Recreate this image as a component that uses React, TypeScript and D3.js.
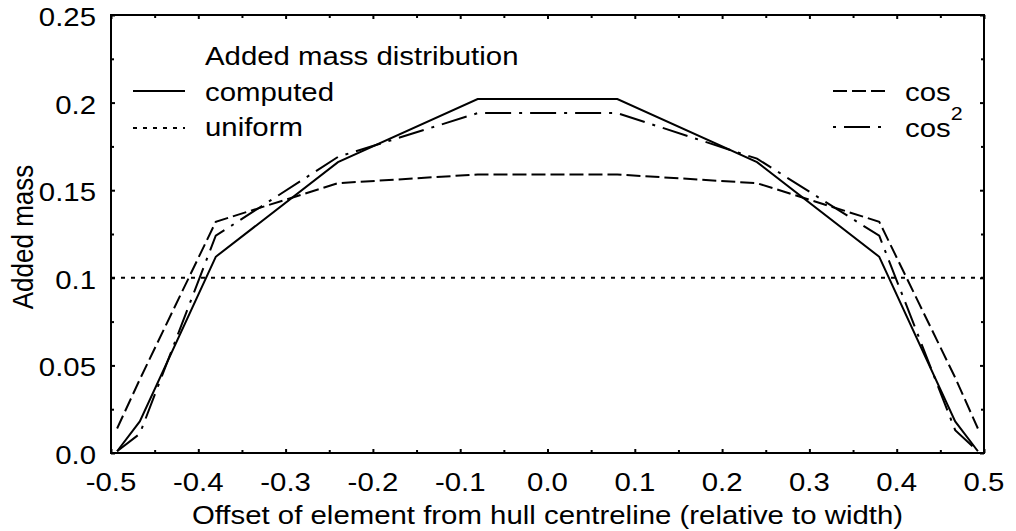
import React, { useEffect, useRef } from "react";
import * as d3 from "d3";

// element offsets (relative to width) and added mass per distribution
const offsets = [-0.493, -0.467, -0.38, -0.24, -0.08, 0.08, 0.24, 0.38, 0.467, 0.493];
const computed = [0.001, 0.018, 0.112, 0.166, 0.202, 0.202, 0.166, 0.112, 0.018, 0.001];
const cosDist = [0.014, 0.042, 0.132, 0.154, 0.159, 0.159, 0.154, 0.132, 0.043, 0.014];
const cos2Dist = [0.001, 0.011, 0.124, 0.169, 0.194, 0.194, 0.168, 0.124, 0.013, 0.001];
const uniformX = [-0.5, 0.5];
const uniformY = [0.1, 0.1];

const xTicks = [-0.5, -0.4, -0.3, -0.2, -0.1, 0, 0.1, 0.2, 0.3, 0.4, 0.5];
const xTickLabels = ["-0.5", "-0.4", "-0.3", "-0.2", "-0.1", "0.0", "0.1", "0.2", "0.3", "0.4", "0.5"];
const xMinor = [-0.45, -0.35, -0.25, -0.15, -0.05, 0.05, 0.15, 0.25, 0.35, 0.45];
const yTicks = [0, 0.05, 0.1, 0.15, 0.2, 0.25];
const yTickLabels = ["0.0", "0.05", "0.1", "0.15", "0.2", "0.25"];
const yMinor = [0.025, 0.075, 0.125, 0.175, 0.225];

const W = 1016;
const H = 531;
const FONT = "'Liberation Sans', Arial, Helvetica, sans-serif";
const SX = 1.13; // text in the picture is a bit stretched sideways

export default function App() {
  const ref = useRef<SVGSVGElement>(null);

  useEffect(() => {
    const svg = d3.select(ref.current);
    svg.selectAll("*").remove();

    const margin = { top: 15, right: 32, bottom: 78, left: 111 };
    const x = d3.scaleLinear().domain([-0.5, 0.5]).range([margin.left, W - margin.right]);
    const y = d3.scaleLinear().domain([0, 0.25]).range([H - margin.bottom, margin.top]);

    const label = (px: number, py: number, str: string, anchor: string, size = 26) =>
      svg.append("text")
        .attr("transform", `translate(${px},${py}) scale(${SX},1)`)
        .attr("text-anchor", anchor)
        .attr("font-size", size)
        .attr("font-family", FONT)
        .attr("fill", "#000")
        .text(str);

    // ticks on all four sides, pointing in
    const tickAxis = (axis: any, vals: number[], len: number, tr: string) => {
      const g = svg.append("g").attr("transform", tr)
        .call(axis.tickValues(vals).tickSizeInner(len).tickSizeOuter(0).tickFormat(() => ""));
      g.select(".domain").remove();
      g.selectAll("line").attr("stroke", "#000").attr("stroke-width", 2);
    };
    const b = H - margin.bottom, t = margin.top, l = margin.left, r = W - margin.right;
    tickAxis(d3.axisBottom(x), xTicks, -4, `translate(0,${b})`);
    tickAxis(d3.axisBottom(x), xMinor, -3, `translate(0,${b})`);
    tickAxis(d3.axisTop(x), xTicks, -4, `translate(0,${t})`);
    tickAxis(d3.axisTop(x), xMinor, -3, `translate(0,${t})`);
    tickAxis(d3.axisLeft(y), yTicks, -4, `translate(${l},0)`);
    tickAxis(d3.axisLeft(y), yMinor, -3, `translate(${l},0)`);
    tickAxis(d3.axisRight(y), yTicks, -4, `translate(${r},0)`);
    tickAxis(d3.axisRight(y), yMinor, -3, `translate(${r},0)`);

    svg.append("rect")
      .attr("x", l).attr("y", t).attr("width", r - l).attr("height", b - t)
      .attr("fill", "none").attr("stroke", "#000").attr("stroke-width", 2);

    xTicks.forEach((v, i) => label(x(v), 491, xTickLabels[i], "middle"));
    yTicks.forEach((v, i) => label(l - 15, y(v) + 11, yTickLabels[i], "end"));

    label((l + r) / 2, 524, "Offset of element from hull centreline (relative to width)", "middle");
    svg.append("text")
      .attr("transform", `translate(33,${(t + b) / 2 + 3}) scale(${SX},1) rotate(-90)`)
      .attr("text-anchor", "middle")
      .attr("font-size", 26)
      .attr("font-family", FONT)
      .text("Added mass");

    const line = (ys: number[], xs: number[] = offsets) =>
      d3.line<number>().x((_, i) => x(xs[i])).y((d) => y(d))(ys);

    const series = [
      { vals: uniformY, xs: uniformX, dash: "4,6" },
      { vals: cosDist, xs: offsets, dash: "14,5" },
      { vals: cos2Dist, xs: offsets, dash: "26,8,3,8" },
      { vals: computed, xs: offsets, dash: null },
    ];
    series.forEach((s) => {
      svg.append("path")
        .attr("d", line(s.vals, s.xs))
        .attr("fill", "none")
        .attr("stroke", "#000")
        .attr("stroke-width", 2)
        .attr("stroke-dasharray", s.dash);
    });

    // legends
    const key = (x1: number, x2: number, ly: number, dash: string | null) =>
      svg.append("line")
        .attr("x1", x1).attr("x2", x2).attr("y1", ly).attr("y2", ly)
        .attr("stroke", "#000").attr("stroke-width", 2)
        .attr("stroke-dasharray", dash);

    label(205, 65, "Added mass distribution", "start");
    key(133, 185, 91, null);
    label(205, 101, "computed", "start");
    key(133, 185, 128, "4,6");
    label(205, 136, "uniform", "start");

    key(833, 885, 91, "14,5");
    label(905, 101, "cos", "start");
    key(833, 885, 127, "3,8,26,8");
    const c2 = label(905, 137, "cos", "start");
    c2.append("tspan").attr("dy", -17).attr("font-size", 19).text("2");
  }, []);

  return (
    <svg
      ref={ref}
      width={W}
      height={H}
      style={{ position: "absolute", left: 0, top: 0, background: "#fff" }}
    />
  );
}
